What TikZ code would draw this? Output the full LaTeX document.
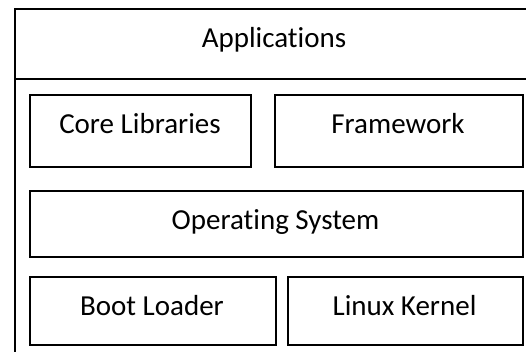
\documentclass[tikz,border=0pt]{standalone}
\usepackage{fontspec}
\setmainfont{Carlito}[RawFeature={-liga;-clig;-dlig}]
\tikzset{
  layer/.style={draw=black, line width=2pt, fill=white, rectangle, inner sep=0pt, anchor=north west},
  lbl/.style={anchor=base, inner sep=0pt, font=\fontsize{29}{33}\selectfont, text=black}
}
\begin{document}
\begin{tikzpicture}[x=1pt,y=-1pt]
\useasboundingbox (0,0) rectangle (526,351);
\fill[white] (0,0) rectangle (526,351);
\begin{scope}
\clip (0,0) rectangle (526,351);
\node[layer, minimum width=526pt, minimum height=357pt] (stack) at (14,8) {};
\node[layer, minimum width=526pt, minimum height=70pt] (apps) at (14,8) {};
\end{scope}
\node[layer, minimum width=221pt, minimum height=71.5pt] (core) at (29,94) {};
\node[layer, minimum width=248pt, minimum height=71.5pt] (fw) at (274,94) {};
\node[layer, minimum width=493pt, minimum height=66pt] (os) at (29,190) {};
\node[layer, minimum width=246pt, minimum height=67.5pt] (boot) at (29,276) {};
\node[layer, minimum width=235pt, minimum height=67.5pt] (kernel) at (287,276) {};
\node[lbl] (appsT) at (274,47) {Applications};
\node[lbl] (coreT) at (140,133.3) {Core Libraries};
\node[lbl] (fwT) at (398,133.3) {Framework};
\node[lbl] (osT) at (275.5,229.3) {Operating System};
\node[lbl] (bootT) at (152,315) {Boot Loader};
\node[lbl] (kernelT) at (404.5,315) {Linux Kernel};
\end{tikzpicture}
\end{document}
